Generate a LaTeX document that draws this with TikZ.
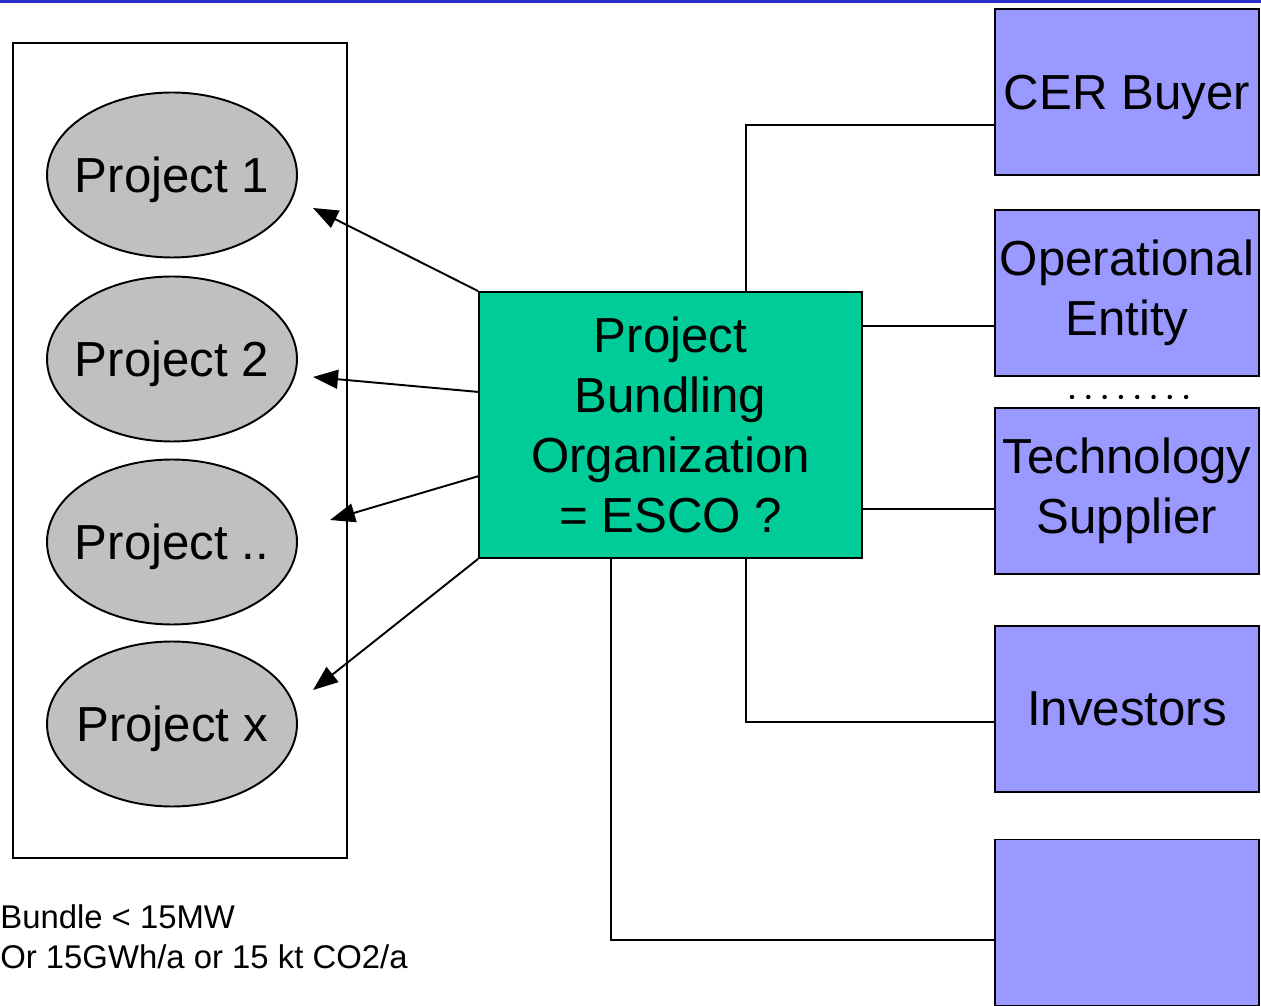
\documentclass[tikz,border=0pt]{standalone}
\usepackage{fontspec}
\setmainfont{Liberation Sans}
\usetikzlibrary{shapes.geometric,arrows.meta,calc}
\definecolor{projgray}{RGB}{192,192,192}
\definecolor{escogreen}{RGB}{0,204,153}
\definecolor{actorblue}{RGB}{153,153,255}
\definecolor{barblue}{RGB}{44,44,204}
\tikzset{
  proj/.style={ellipse, draw, line width=1.1pt, fill=projgray, minimum width=5cm, minimum height=3.3cm, inner xsep=-0.2cm, inner ysep=0pt, text depth=0pt, font=\fontsize{28}{34}\selectfont},
  actor/.style={rectangle, draw, line width=1.1pt, fill=actorblue, minimum width=5.28cm, minimum height=3.32cm, inner sep=0pt, align=center, font=\fontsize{28}{34}\selectfont},
  esco/.style={rectangle, draw, line width=1.1pt, fill=escogreen, minimum width=7.66cm, minimum height=5.32cm, inner sep=0pt, align=center, font=\fontsize{28}{34}\selectfont},
  link/.style={draw, line width=1.1pt},
  pointer/.style={draw, line width=1.1pt, -{Triangle[length=0.5cm, width=0.38cm]}},
  note/.style={anchor=west, inner sep=0pt, align=left, font=\fontsize{18.7}{22.5}\selectfont}
}
\begin{document}
\begin{tikzpicture}[x=0.02cm, y=-0.02cm]
\useasboundingbox (0,0) rectangle (1261,1006);
\fill[white] (0,0) rectangle (1261,1006);
\fill[barblue] (0,0) rectangle (1261,3);
% left frame
\draw[line width=1.1pt] (13,43) rectangle (347,858);
% projects
\node[proj] (p1) at (172,175) {Project 1};
\node[proj] (p2) at (172,359) {Project 2};
\node[proj] (p3) at (172,542) {Project ..};
\node[proj] (p4) at (172,724) {Project x};
% centre
\node[esco] (e) at (670.5,425) {Project\\Bundling\\Organization\\= ESCO ?};
% actors
\node[actor, text depth=0pt] (cer) at (1127,92) {CER Buyer};
\node[actor] (oe) at (1127,293) {Operational\\Entity};
\node[actor] (ts) at (1127,491) {Technology\\Supplier};
\node[actor] (inv) at (1127,709) {Investors};
\node[actor] (blank) at (1127,922.5) {};
% dots
\foreach \i in {0,...,7} \fill (1072+\i*16.3,397) circle (2.2);
% arrow ends
\coordinate (t1) at (313,208);
\coordinate (t2) at (313,377);
\coordinate (t3) at (330,520);
\coordinate (t4) at (313,690);
\coordinate (s2) at (479,392);
\coordinate (s3) at (479,476);
\draw[pointer] (e.north west) -- (t1);
\draw[pointer] (s2) -- (t2);
\draw[pointer] (s3) -- (t3);
\draw[pointer] (e.south west) -- (t4);
% connector ends on the actor boxes
\coordinate (c1) at ($(cer.west)+(0,33)$);
\coordinate (c2) at ($(oe.west)+(0,33)$);
\coordinate (c3) at ($(ts.west)+(0,18)$);
\coordinate (c4) at ($(inv.west)+(0,13)$);
\coordinate (c5) at ($(blank.west)+(0,17.5)$);
\draw[link] (e.north west -| 746,0) |- (c1);
\draw[link] (e.east |- c2) -- (c2);
\draw[link] (e.east |- c3) -- (c3);
\draw[link] (e.south west -| 746,0) |- (c4);
\draw[link] (e.south west -| 611,0) |- (c5);
% note
\node[note] (n) at (0,937) {Bundle < 15MW\\Or 15GWh/a or 15 kt CO2/a};
\end{tikzpicture}
\end{document}
